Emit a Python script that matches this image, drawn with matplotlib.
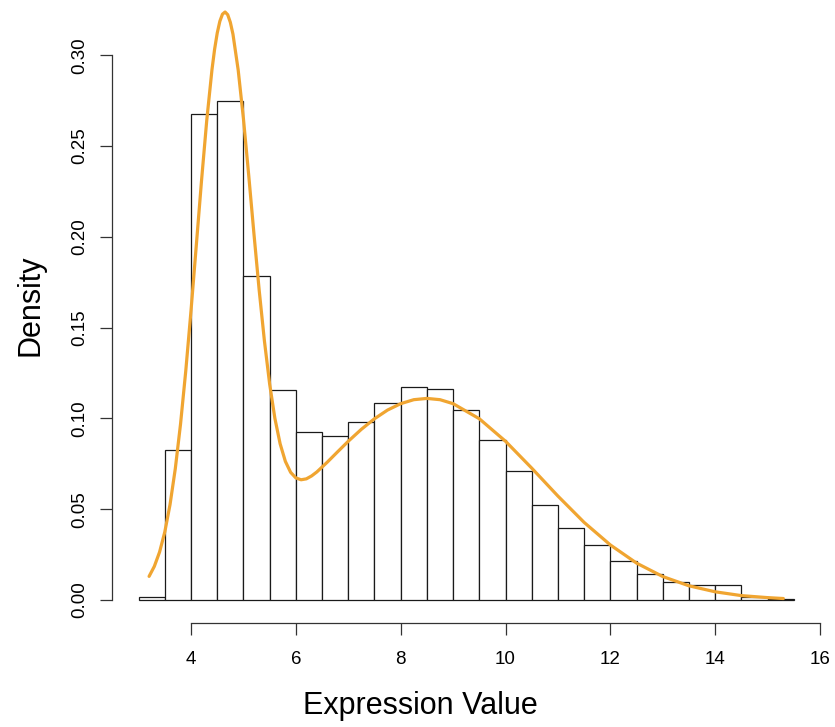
import matplotlib
matplotlib.use("Agg")
import matplotlib.pyplot as plt

plt.rcParams['font.family'] = ['Liberation Sans', 'DejaVu Sans']

# histogram: left edges of the bins (width 0.5) and densities
bin_left = [3.0, 3.5, 4.0, 4.5, 5.0, 5.5, 6.0, 6.5, 7.0, 7.5, 8.0, 8.5, 9.0,
            9.5, 10.0, 10.5, 11.0, 11.5, 12.0, 12.5, 13.0, 13.5, 14.0, 14.5, 15.0]
density = [0.0017, 0.0826, 0.2678, 0.2746, 0.1782, 0.1155, 0.0923, 0.0903,
           0.0978, 0.1085, 0.1173, 0.1160, 0.1048, 0.0883, 0.0712, 0.0525,
           0.0395, 0.0303, 0.0215, 0.0141, 0.0101, 0.0084, 0.0084, 0.0018, 0.0005]
bin_width = 0.5

# fitted density curve
curve_x = [3.2, 3.3, 3.4, 3.5, 3.6, 3.7, 3.8, 3.9, 4.0, 4.1, 4.2, 4.3, 4.4,
           4.45, 4.5, 4.55, 4.6, 4.65, 4.7, 4.75, 4.8, 4.9, 5.0, 5.1, 5.2,
           5.3, 5.4, 5.5, 5.6, 5.7, 5.8, 5.9, 6.0, 6.1, 6.2, 6.3, 6.4, 6.6,
           6.8, 7.0, 7.25, 7.5, 7.75, 8.0, 8.25, 8.5, 8.75, 9.0, 9.5, 10.0,
           10.5, 11.0, 11.5, 12.0, 12.5, 13.0, 13.5, 14.0, 14.5, 15.0, 15.3]
curve_y = [0.0130, 0.0185, 0.0264, 0.0375, 0.0526, 0.0723, 0.0969, 0.1262,
           0.1594, 0.1950, 0.2308, 0.2641, 0.2921, 0.3033, 0.3122, 0.3187,
           0.3226, 0.3238, 0.3223, 0.3181, 0.3116, 0.2918, 0.2650, 0.2341,
           0.2018, 0.1707, 0.1427, 0.1189, 0.1000, 0.0860, 0.0763, 0.0703,
           0.0672, 0.0662, 0.0667, 0.0683, 0.0705, 0.0759, 0.0817, 0.0874,
           0.0940, 0.0998, 0.1046, 0.1081, 0.1103, 0.1110, 0.1103, 0.1081,
           0.0998, 0.0874, 0.0726, 0.0572, 0.0427, 0.0303, 0.0203, 0.0129,
           0.0078, 0.0045, 0.0024, 0.0013, 0.0008]

xticks = [4, 6, 8, 10, 12, 14, 16]
yticks = [0.00, 0.05, 0.10, 0.15, 0.20, 0.25, 0.30]
ytick_labels = ["0.00", "0.05", "0.10", "0.15", "0.20", "0.25", "0.30"]

fig = plt.figure(figsize=(8.35, 7.27), dpi=100)
ax = fig.add_axes([0.1346, 0.1424, 0.8475, 0.8576])

ax.bar(bin_left, density, width=bin_width, align='edge', color='white',
       edgecolor='#1a1a1a', linewidth=0.9)
ax.plot(curve_x, curve_y, color='#F0A531', linewidth=2.3,
        solid_capstyle='round', solid_joinstyle='round')

ax.set_xlim(2.5, 16.0)
ax.set_ylim(-0.01294, 0.3304)

for s in ['top', 'right']:
    ax.spines[s].set_visible(False)
ax.spines['left'].set_bounds(0, 0.30)
ax.spines['bottom'].set_bounds(4, 16)
for s in ['left', 'bottom']:
    ax.spines[s].set_color('#333333')
    ax.spines[s].set_linewidth(0.9)

ax.set_xticks(xticks)
ax.set_yticks(yticks)
ax.set_yticklabels(ytick_labels)
ax.tick_params(axis='both', direction='out', length=8.6, width=0.9,
               color='#333333', labelsize=13.5)
ax.tick_params(axis='x', pad=11)
ax.tick_params(axis='y', pad=9)
plt.setp(ax.get_yticklabels(), rotation=90, va='center')

fig.text(420 / 835, 1 - 706 / 727, "Expression Value", fontsize=22,
         ha='center', va='center')
fig.text(30 / 835, 1 - 305 / 727, "Density", fontsize=22, rotation=90,
         ha='center', va='center')

fig.savefig("out.png", dpi=100)
